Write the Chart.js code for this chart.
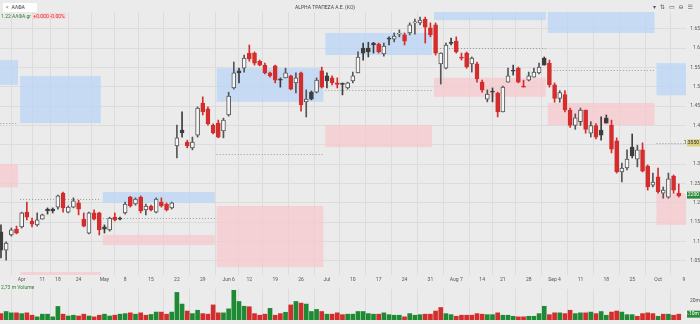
<!DOCTYPE html>
<html>
<head>
<meta charset="utf-8">
<script src="https://cdn.jsdelivr.net/npm/chart.js@4/dist/chart.umd.min.js"></script>
<style>
  body { margin: 0; width: 700px; height: 324px; background: #ebebeb; position: relative; overflow: hidden; font-family: Roboto, "DejaVu Sans", sans-serif; }
  #priceBox { position: absolute; left: 0; top: 0; width: 700px; height: 285px; }
  #volBox { position: absolute; left: 0; top: 285px; width: 700px; height: 39px; }
  .search { position: absolute; left: 3px; top: 3px; width: 34px; height: 9px; background: #fff; font-size: 5px; line-height: 9px; color: #333; }
  .search span { margin-left: 3px; margin-right: 3px; }
  .info { position: absolute; left: 1px; top: 13px; font-size: 5px; line-height: 6px; color: #2f7d32; }
  .info b { font-weight: normal; color: #d33; background: #f6d6d6; padding: 0 1px; }
  .title { position: absolute; left: 0; width: 650px; top: 4px; text-align: center; font-size: 5px; color: #444; }
  .icons { position: absolute; right: 3px; top: 3px; font-size: 6px; color: #555; letter-spacing: 4px; }
  .volLabel { position: absolute; left: 1px; top: 284px; font-size: 5px; color: #2f7d32; }
</style>
</head>
<body>
<div id="priceBox"><canvas id="price" width="700" height="285"></canvas></div>
<div id="volBox"><canvas id="vol" width="700" height="39"></canvas></div>
<div class="search"><span>&lt;</span>ΑΛΦΑ</div>
<div class="info">1.22 ΑΛΦΑ.gr <b>+0.000 -0.00%</b></div>
<div class="title">ALPHA ΤΡΑΠΕΖΑ Α.Ε. (ΚΟ)</div>
<div class="icons">▾⇅▭⊖☰</div>
<div class="volLabel">2,73 m Volume</div>
<script>
// one entry per trading day, 28 Mar .. 6 Oct
const opens = [1.125,1.078,1.117,1.132,1.138,1.176,1.153,1.143,1.158,1.184,1.184,1.189,1.225,1.176,1.189,1.200,1.158,1.122,1.174,1.174,
  1.138,1.130,1.163,1.161,1.174,1.215,1.197,1.215,1.182,1.192,1.176,1.202,1.197,1.187,1.347,1.388,1.357,1.342,1.375,1.458,
  1.443,1.401,1.406,1.386,1.427,1.497,1.541,1.548,1.587,1.587,1.566,1.556,1.536,1.554,1.519,1.523,1.528,1.510,1.536,1.461,
  1.486,1.486,1.541,1.528,1.523,1.510,1.507,1.497,1.515,1.536,1.600,1.600,1.613,1.610,1.585,1.624,1.623,1.636,1.634,1.639,
  1.665,1.665,1.675,1.652,1.660,1.559,1.548,1.614,1.618,1.577,1.587,1.559,1.559,1.512,1.468,1.487,1.484,1.435,1.512,1.541,
  1.548,1.502,1.517,1.525,1.536,1.574,1.561,1.505,1.470,1.480,1.440,1.400,1.410,1.440,1.380,1.400,1.388,1.419,1.401,1.360,
  1.280,1.290,1.344,1.313,1.337,1.295,1.246,1.267,1.225,1.215,1.269,1.225];
const highs = [1.143,1.099,1.135,1.140,1.176,1.202,1.161,1.174,1.171,1.187,1.187,1.220,1.228,1.192,1.213,1.207,1.174,1.176,1.182,1.176,
  1.143,1.163,1.174,1.163,1.202,1.217,1.213,1.218,1.197,1.194,1.213,1.213,1.200,1.202,1.401,1.435,1.362,1.370,1.448,1.474,
  1.448,1.404,1.414,1.419,1.486,1.564,1.548,1.582,1.608,1.590,1.569,1.561,1.538,1.556,1.523,1.548,1.530,1.536,1.538,1.492,
  1.489,1.523,1.551,1.536,1.528,1.523,1.510,1.512,1.538,1.590,1.613,1.615,1.615,1.613,1.613,1.629,1.639,1.647,1.639,1.665,
  1.675,1.680,1.680,1.665,1.665,1.588,1.613,1.626,1.629,1.587,1.590,1.577,1.564,1.517,1.492,1.497,1.486,1.502,1.548,1.556,
  1.551,1.517,1.538,1.548,1.561,1.577,1.569,1.510,1.490,1.490,1.445,1.430,1.445,1.440,1.410,1.405,1.422,1.427,1.414,1.368,
  1.303,1.337,1.378,1.349,1.355,1.298,1.277,1.290,1.241,1.277,1.272,1.249];
const lows = [1.058,1.052,1.114,1.120,1.135,1.156,1.138,1.140,1.158,1.171,1.174,1.184,1.176,1.174,1.187,1.169,1.138,1.120,1.156,1.117,
  1.122,1.127,1.153,1.156,1.171,1.189,1.194,1.174,1.169,1.179,1.174,1.189,1.179,1.184,1.316,1.370,1.342,1.337,1.370,1.427,
  1.401,1.378,1.368,1.368,1.424,1.494,1.510,1.538,1.566,1.556,1.554,1.533,1.525,1.510,1.499,1.523,1.492,1.484,1.437,1.422,
  1.466,1.484,1.497,1.497,1.505,1.497,1.479,1.494,1.510,1.536,1.569,1.577,1.587,1.587,1.579,1.608,1.616,1.629,1.608,1.634,
  1.636,1.660,1.613,1.629,1.582,1.507,1.546,1.608,1.587,1.569,1.548,1.538,1.512,1.486,1.461,1.461,1.422,1.435,1.512,1.530,
  1.510,1.499,1.515,1.525,1.533,1.556,1.499,1.460,1.460,1.435,1.395,1.390,1.400,1.380,1.370,1.365,1.362,1.406,1.329,1.277,
  1.254,1.285,1.316,1.293,1.280,1.233,1.241,1.225,1.212,1.212,1.225,1.215];
const closes = [1.078,1.096,1.130,1.122,1.174,1.163,1.145,1.156,1.169,1.179,1.179,1.218,1.187,1.189,1.205,1.184,1.140,1.174,1.158,1.130,
  1.132,1.161,1.156,1.158,1.197,1.192,1.210,1.179,1.192,1.182,1.210,1.192,1.182,1.200,1.368,1.381,1.347,1.357,1.445,1.435,
  1.404,1.381,1.370,1.414,1.476,1.536,1.536,1.574,1.572,1.561,1.556,1.536,1.528,1.517,1.517,1.536,1.494,1.523,1.453,1.468,
  1.468,1.517,1.499,1.515,1.510,1.506,1.506,1.510,1.528,1.577,1.587,1.590,1.608,1.590,1.605,1.623,1.631,1.637,1.618,1.660,
  1.666,1.672,1.654,1.634,1.587,1.587,1.608,1.612,1.590,1.574,1.551,1.574,1.520,1.492,1.481,1.486,1.435,1.499,1.528,1.540,
  1.512,1.499,1.528,1.538,1.551,1.556,1.505,1.470,1.485,1.440,1.400,1.420,1.440,1.390,1.400,1.370,1.375,1.406,1.339,1.280,
  1.290,1.313,1.321,1.337,1.282,1.241,1.254,1.228,1.233,1.262,1.233,1.218];
// volume in millions of shares, and whether the bar is green
const volumes = [6.7,8.9,7.5,7.5,6.7,7.5,5.0,3.3,6.1,6.1,3.3,14.2,6.1,4.2,5.0,4.2,6.1,4.2,3.3,5.0,
  6.1,4.2,5.0,6.1,6.7,7.5,6.1,7.5,5.0,5.8,8.3,8.3,6.1,8.3,28.9,16.7,9.4,6.7,10.2,6.7,
  6.1,15.8,7.5,7.5,11.7,31.1,19.4,14.4,13.9,6.7,5.0,6.1,12.2,5.0,6.7,8.1,15.8,19.4,17.7,16.7,
  8.9,11.1,8.9,6.1,6.1,7.5,5.6,6.1,6.1,8.9,8.9,6.7,6.1,6.1,7.5,5.6,5.0,5.0,3.3,6.7,
  5.0,5.6,6.1,6.1,9.4,13.1,6.7,5.6,3.9,5.0,5.0,5.0,6.7,6.1,5.6,5.6,7.5,5.0,5.0,3.9,
  3.3,3.3,3.9,3.9,6.7,14.4,5.6,7.5,7.5,6.7,10.2,6.7,7.5,7.5,8.3,6.7,8.9,5.0,8.3,9.4,
  8.3,5.6,5.6,3.9,6.7,7.5,6.7,3.9,6.1,6.1,5.0,6.1];
const volUp = [0,1,1,0,1,0,0,1,1,1,1,1,0,1,1,0,0,1,0,0,
  1,1,0,1,1,0,1,0,0,1,1,0,0,1,1,1,0,1,1,0,
  0,0,0,1,1,1,1,1,0,0,0,0,1,0,0,1,0,1,0,1,
  1,1,0,1,0,0,0,1,1,1,1,1,1,0,1,1,1,1,0,1,
  1,1,0,0,0,0,1,1,0,0,0,0,0,0,1,1,0,1,1,1,
  0,0,1,1,1,1,0,0,1,0,0,1,1,0,1,0,1,1,0,0,
  1,1,1,0,0,0,0,1,0,1,0,0];

// week labels on the date axis (trading-day index, text)
const tickIdx = [4,8,11,15,20,24,29,34,39,44,48,53,58,63,68,73,78,83,88,93,97,102,107,112,117,122,127,132];
const tickText = ['Apr','11','18','24','May','8','15','22','29','Jun 6','12','19','26','Jul','10','17','24','31','Aug 7','14','21','28','Sep 4','11','18','25','Oct','9'];

// monthly levels: first/last day index, upper (blue) band, lower (pink) band, pivot
const zoneFirst = [-1, 4, 20, 42, 63, 84, 106, 127];
const zoneLast  = [3, 19, 41, 62, 83, 105, 126, 133];
const upperLow  = [1.505, 1.406, 1.200, 1.461, 1.582, 1.672, 1.639, 1.478];
const upperHigh = [1.569, 1.528, 1.228, 1.548, 1.639, 1.720, 1.720, 1.561];
const lowerLow  = [1.240, 0.980, 1.091, 1.034, 1.344, 1.474, 1.401, 1.143];
const lowerHigh = [1.300, 1.021, 1.117, 1.192, 1.401, 1.523, 1.458, 1.225];
const pivots    = [1.406, 1.210, 1.161, 1.326, 1.492, 1.600, 1.543, 1.355];

const lastPrice = 1.22;
const lastPivot = 1.355;

const xMin = -0.19, xMax = 132.4;
const idx = closes.map((_, i) => i);

const upColor = '#f7f7f7', downColor = '#d42d2d', flatColor = '#3d3d3d', edge = '#555';
function candleColor(i) {
  if (closes[i] > opens[i]) return upColor;
  if (i > 0 && closes[i] < closes[i - 1]) return downColor;
  return flatColor;
}

const zonesPlugin = {
  id: 'zones',
  beforeDatasetsDraw(chart) {
    const { ctx, chartArea, scales } = chart;
    const x = scales.x, y = scales.y;
    ctx.save();
    ctx.beginPath();
    ctx.rect(chartArea.left, chartArea.top, chartArea.width, chartArea.height);
    ctx.clip();
    for (let k = 0; k < zoneFirst.length; k++) {
      const x0 = x.getPixelForValue(zoneFirst[k] - 0.5) + 1;
      const x1 = x.getPixelForValue(zoneLast[k] + 0.5) - 1;
      ctx.fillStyle = 'rgba(185, 214, 245, 0.75)';
      let a = y.getPixelForValue(upperHigh[k]), b = y.getPixelForValue(upperLow[k]);
      ctx.fillRect(x0, a, x1 - x0, b - a);
      ctx.fillStyle = 'rgba(248, 198, 204, 0.7)';
      a = y.getPixelForValue(lowerHigh[k]); b = y.getPixelForValue(lowerLow[k]);
      ctx.fillRect(x0, a, x1 - x0, b - a);
      const py = Math.round(y.getPixelForValue(pivots[k])) + 0.5;
      ctx.strokeStyle = '#9a9a9a';
      ctx.lineWidth = 1;
      ctx.setLineDash([1, 2]);
      ctx.beginPath();
      ctx.moveTo(x0, py);
      ctx.lineTo(x1, py);
      ctx.stroke();
    }
    ctx.restore();
  },
  afterDraw(chart) {
    const { ctx, chartArea, scales } = chart;
    const y = scales.y;
    const tag = (val, bg, fg, txt) => {
      const py = y.getPixelForValue(val);
      ctx.fillStyle = bg;
      ctx.fillRect(chartArea.right + 1, py - 3.5, 13, 7);
      ctx.fillStyle = fg;
      ctx.font = '5px Roboto';
      ctx.textAlign = 'right';
      ctx.textBaseline = 'middle';
      ctx.fillText(txt, 699, py);
    };
    tag(lastPivot, '#d8cf7a', '#333', lastPivot.toFixed(4));
    tag(lastPrice, '#2e8b3c', '#fff', lastPrice.toFixed(4));
  }
};

new Chart(document.getElementById('price'), {
  type: 'bar',
  data: {
    datasets: [
      {
        label: 'body',
        data: idx.map(i => ({ x: i, y: [opens[i], closes[i]] })),
        backgroundColor: idx.map(candleColor),
        borderColor: idx.map(i => closes[i] > opens[i] ? edge : candleColor(i)),
        borderWidth: 1,
        borderSkipped: false,
        barThickness: 4,
        minBarLength: 1,
        grouped: false,
        order: 0
      },
      {
        label: 'wick',
        data: idx.map(i => ({ x: i, y: [lows[i], highs[i]] })),
        backgroundColor: idx.map(i => closes[i] > opens[i] ? edge : candleColor(i)),
        barThickness: 1,
        grouped: false,
        order: 1
      }
    ]
  },
  options: {
    responsive: false,
    animation: false,
    layout: { padding: { top: 12, left: 0, right: 0, bottom: 0 } },
    plugins: { legend: { display: false }, tooltip: { enabled: false } },
    scales: {
      x: {
        type: 'linear', min: xMin, max: xMax, offset: false,
        afterBuildTicks: s => { s.ticks = tickIdx.map(v => ({ value: v })); },
        afterFit: s => { s.height = 10; },
        ticks: {
          autoSkip: false, maxRotation: 0, padding: 2,
          font: { size: 5, family: 'Roboto' }, color: '#555',
          callback: v => tickText[tickIdx.indexOf(v)]
        },
        grid: { color: '#dcdcdc', drawTicks: false },
        border: { display: false }
      },
      y: {
        position: 'right', min: 1.0136, max: 1.6932,
        afterBuildTicks: s => {
          const t = [];
          for (let v = 1.05; v <= 1.69; v += 0.05) t.push({ value: +v.toFixed(2) });
          s.ticks = t;
        },
        afterFit: s => { s.width = 14; },
        ticks: {
          crossAlign: 'far', padding: 1,
          font: { size: 5, family: 'Roboto' }, color: '#555',
          callback: v => String(+v.toFixed(2))
        },
        grid: { color: '#dcdcdc', drawTicks: false },
        border: { display: false }
      }
    }
  },
  plugins: [zonesPlugin]
});

const volTag = {
  id: 'volTag',
  afterDraw(chart) {
    const { ctx, chartArea, scales } = chart;
    const last = volumes.length - 1;
    const py = scales.y.getPixelForValue(volumes[last]);
    ctx.fillStyle = '#2e8b3c';
    ctx.fillRect(chartArea.right + 1, py - 3.5, 13, 7);
    ctx.fillStyle = '#fff';
    ctx.font = '5px Roboto';
    ctx.textAlign = 'right';
    ctx.textBaseline = 'middle';
    ctx.fillText(volumes[last].toFixed(2) + 'm', 699, py);
  }
};

new Chart(document.getElementById('vol'), {
  type: 'bar',
  data: {
    datasets: [{
      data: idx.map(i => ({ x: i, y: volumes[i] })),
      backgroundColor: idx.map(i => volUp[i] ? '#1f8a34' : '#d42d2d'),
      barThickness: 4,
      grouped: false
    }]
  },
  options: {
    responsive: false,
    animation: false,
    layout: { padding: 0 },
    plugins: { legend: { display: false }, tooltip: { enabled: false } },
    scales: {
      x: {
        type: 'linear', min: xMin, max: xMax, offset: false, display: true,
        afterBuildTicks: s => { s.ticks = tickIdx.map(v => ({ value: v })); },
        afterFit: s => { s.height = 0; },
        ticks: { display: false },
        grid: { color: '#dcdcdc', drawTicks: false },
        border: { display: false }
      },
      y: {
        position: 'right', min: 0, max: 32.5,
        afterBuildTicks: s => { s.ticks = [{ value: 20 }]; },
        afterFit: s => { s.width = 14; },
        ticks: {
          crossAlign: 'far', padding: 1,
          font: { size: 5, family: 'Roboto' }, color: '#555',
          callback: v => v + 'm'
        },
        grid: { display: false },
        border: { display: false }
      }
    }
  },
  plugins: [volTag]
});
</script>
</body>
</html>
